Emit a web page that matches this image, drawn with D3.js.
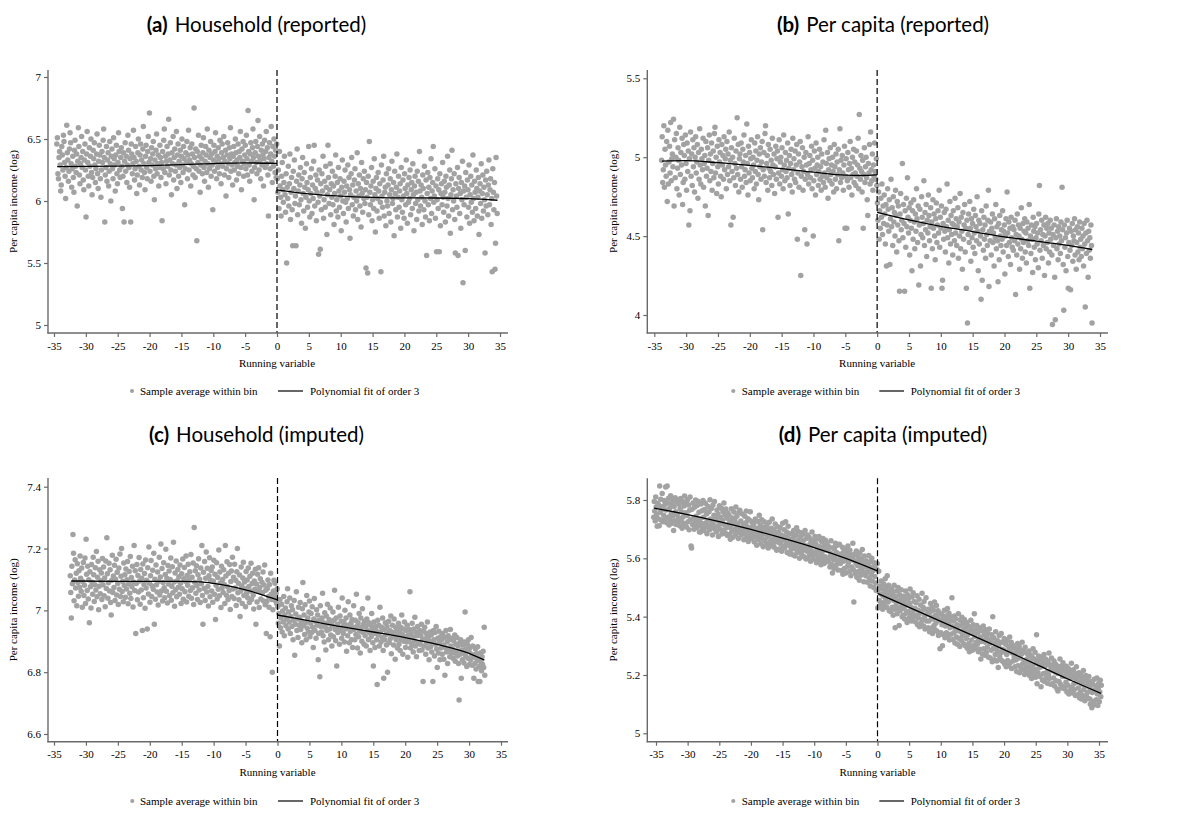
<!DOCTYPE html>
<html>
<head>
<meta charset="utf-8">
<script src="https://cdn.jsdelivr.net/npm/d3@7"></script>
<style>
  body { margin: 0; background: #fff; }
</style>
</head>
<body>
<svg id="chart" width="1192" height="813"></svg>
<script>
// ---- Binned sample averages (evenly spaced bins on each side of the cutoff) ----

// (a) Household income, reported
const aLeftRange = [-34.6, 0];
const aLeftY = [
  6.46,6.51,6.22,6.18,6.35,6.40,6.29,6.08,6.13,6.44,6.37,6.25,6.53,6.48,6.31,6.20,6.02,6.27,6.61,6.39,
  6.33,6.16,6.24,6.42,6.55,6.47,6.30,6.11,6.26,6.36,6.19,6.07,6.41,6.49,6.28,6.23,6.38,5.96,6.32,6.59,
  6.44,6.21,6.14,6.30,6.35,6.52,6.27,6.40,6.17,6.09,6.33,6.46,6.25,5.87,6.38,6.56,6.31,6.20,6.12,6.43,
  6.28,6.36,6.50,6.23,6.05,6.19,6.41,6.34,6.47,6.29,6.15,6.26,6.38,6.54,6.22,6.10,6.32,6.45,6.37,6.18,
  6.03,6.25,6.40,6.31,6.49,6.58,6.35,5.83,6.21,6.27,6.44,6.16,6.33,6.39,6.12,6.24,6.48,6.30,6.00,6.36,
  6.42,6.26,6.18,6.51,6.34,6.29,6.08,6.37,6.45,6.22,6.14,6.31,6.55,6.40,6.25,6.19,6.35,6.43,6.28,5.94,
  6.20,6.39,5.83,6.32,6.47,6.24,6.36,6.15,6.29,6.53,6.41,6.27,6.11,6.34,5.83,6.46,6.38,6.22,6.30,6.57,
  6.35,6.17,6.26,6.44,6.32,6.06,6.21,6.39,6.50,6.28,6.13,6.37,6.46,6.25,6.33,6.19,6.42,6.60,6.30,6.23,
  6.09,6.36,6.45,6.27,6.18,6.40,6.52,6.31,6.71,6.24,6.34,6.16,6.43,6.29,6.38,6.48,6.20,6.01,6.33,6.26,
  6.41,6.54,6.22,6.30,6.37,6.12,6.27,6.45,6.35,6.19,6.31,5.84,6.40,6.26,6.49,6.58,6.23,6.36,6.14,6.32,
  6.44,6.28,6.38,6.66,6.21,6.33,6.47,6.25,6.05,6.39,6.30,6.52,6.17,6.35,6.42,6.24,6.29,6.56,6.10,6.37,
  6.46,6.20,6.32,6.27,6.41,6.15,6.36,6.50,6.29,6.23,6.44,6.34,5.97,6.26,6.39,6.31,6.48,6.18,6.37,6.57,
  6.25,6.33,6.43,6.12,6.30,6.46,6.38,6.21,6.28,6.75,6.35,6.19,6.42,6.26,5.68,6.40,6.31,6.53,6.24,6.36,
  6.07,6.29,6.45,6.34,6.22,6.39,6.51,6.27,6.16,6.32,6.44,6.37,6.23,6.58,6.30,6.11,6.41,6.26,6.35,6.48,
  6.20,6.38,6.29,5.93,6.33,6.45,6.24,6.40,6.55,6.31,6.18,6.36,6.27,6.43,6.34,6.22,6.49,6.30,6.14,6.39,
  6.46,6.28,6.35,6.52,6.21,6.32,6.41,6.04,6.26,6.37,6.47,6.30,6.19,6.43,6.34,6.59,6.24,6.38,6.29,6.13,
  6.36,6.44,6.25,6.31,6.50,6.39,6.17,6.33,6.28,6.46,6.22,6.40,6.35,6.56,6.27,6.09,6.42,6.32,6.48,6.20,
  6.30,6.37,6.45,6.26,6.53,6.34,6.21,6.73,6.40,6.29,6.16,6.38,6.47,6.32,6.24,6.43,6.58,6.35,6.01,6.27,
  6.39,6.48,6.31,6.22,6.44,6.65,6.36,6.25,6.52,6.33,6.18,6.41,6.29,6.46,6.37,6.12,6.34,6.49,6.27,6.40,
  6.56,6.30,6.43,6.21,5.88,6.35,6.47,6.26,6.38,6.60,6.32,6.15,6.44,6.28,6.50,6.36,6.23,6.41,6.19,6.46
];
const aRightRange = [0, 34.6];
const aRightY = [
  6.18,6.07,6.25,5.94,6.40,6.12,6.03,5.88,6.20,6.31,6.09,5.99,6.15,6.36,6.05,5.91,6.22,5.50,6.11,6.02,
  6.28,5.96,6.14,6.38,5.85,6.07,6.19,5.93,5.64,6.24,6.10,6.33,5.98,6.04,5.64,6.16,6.42,5.89,6.08,6.21,
  5.97,6.13,6.27,6.01,5.82,6.18,6.35,6.06,5.92,6.23,6.11,5.78,6.03,6.30,6.15,5.95,6.09,6.44,6.00,5.87,
  6.19,6.06,6.26,5.90,6.13,6.02,6.32,6.45,5.96,6.10,6.21,5.84,6.07,6.17,5.99,5.57,6.25,6.04,5.61,6.14,
  5.93,6.22,6.08,6.36,5.86,6.01,6.16,5.95,6.28,6.11,5.73,6.05,6.45,6.19,5.98,6.09,6.30,5.89,6.14,6.03,
  6.24,5.97,6.12,5.81,6.06,6.20,6.37,5.92,6.01,6.15,5.87,6.27,6.08,5.95,6.18,6.04,5.76,6.11,6.33,6.00,
  5.90,6.16,6.07,6.25,5.99,5.83,6.12,6.02,6.29,5.94,6.19,6.09,5.70,6.05,6.22,6.35,5.97,6.13,5.88,6.03,
  6.17,6.26,5.93,6.08,6.00,6.39,5.85,6.14,6.04,6.21,5.96,6.10,5.79,6.31,6.06,5.91,6.18,6.02,6.24,5.98,
  6.09,5.46,6.15,6.03,5.42,6.20,5.89,6.48,6.07,5.97,6.12,6.27,5.84,6.01,6.16,5.94,6.34,6.05,5.75,6.10,
  6.19,5.92,6.02,6.23,6.08,5.86,6.14,5.99,5.43,6.29,6.04,5.95,6.17,6.36,5.88,6.07,6.11,5.80,6.22,6.00,
  5.96,6.13,6.26,5.90,6.05,6.18,5.83,6.09,6.32,5.98,6.02,6.15,5.72,6.24,6.06,5.93,6.11,6.38,5.87,6.03,
  6.20,5.95,6.08,6.14,5.78,6.27,6.01,5.91,6.17,6.04,5.86,6.22,6.10,5.97,6.33,6.06,5.82,6.13,5.99,6.19,
  6.02,6.25,5.89,6.09,6.15,5.94,6.30,6.05,5.76,6.12,6.20,5.98,6.07,5.85,6.24,6.01,6.16,5.92,6.40,6.08,
  5.96,6.13,6.03,5.81,6.21,6.10,5.93,6.28,6.00,5.87,6.17,5.56,6.06,6.23,5.97,6.11,5.84,6.19,6.02,6.34,
  5.90,6.08,6.15,6.44,5.99,6.04,6.26,5.86,6.12,5.59,6.01,6.18,5.94,6.09,5.59,6.22,5.80,6.06,6.14,5.97,
  6.31,6.03,5.91,6.16,6.07,5.83,6.20,6.11,5.96,6.36,6.02,5.88,6.13,6.25,5.74,6.05,6.18,6.41,5.93,6.09,
  6.00,6.22,5.85,5.58,6.14,6.04,5.95,6.27,5.56,6.10,6.19,5.90,6.06,5.78,6.15,6.01,6.32,5.34,6.08,5.97,
  6.12,5.60,6.23,6.03,5.87,6.17,6.09,5.95,6.29,5.82,6.05,6.20,5.99,6.13,5.91,6.37,6.02,5.84,6.16,6.07,
  5.94,6.25,6.10,5.88,6.03,6.19,5.73,6.08,6.14,5.98,6.30,5.86,6.06,6.21,5.92,6.11,6.01,5.58,6.17,5.96,
  6.24,6.05,5.89,6.13,6.33,5.97,6.09,6.18,5.81,6.02,5.43,6.26,6.07,5.93,6.15,5.45,5.66,6.35,6.04,5.90
];

// (b) Per capita income, reported
const bLeftRange = [-33.9, 0];
const bLeftY = [
  4.98,5.13,4.84,4.92,5.20,4.81,5.05,4.95,4.88,5.10,4.72,5.17,4.83,4.97,5.07,4.90,5.22,4.85,4.99,5.02,
  4.94,5.24,4.69,5.11,4.87,5.00,5.15,4.80,4.93,5.06,4.98,4.76,5.19,4.89,5.03,4.95,5.12,4.70,4.84,5.08,
  5.01,4.86,5.14,4.96,4.79,5.09,4.91,5.04,4.57,4.99,4.66,5.16,4.88,5.02,4.82,5.11,4.94,5.06,4.78,5.00,
  5.13,4.90,4.97,5.08,4.74,5.03,4.86,5.18,4.95,4.83,5.05,4.99,4.92,5.12,4.81,4.96,5.01,4.69,5.10,4.88,
  4.93,5.06,4.63,4.98,5.14,4.85,5.02,4.91,5.09,4.79,4.96,5.04,4.87,5.15,5.19,4.90,5.00,4.77,5.07,4.94,
  4.83,5.11,4.97,5.03,4.88,4.75,5.08,4.95,5.01,4.86,5.13,4.92,4.99,5.05,4.80,5.10,4.89,5.02,4.94,5.16,
  4.85,4.98,4.57,5.06,4.91,5.00,4.62,4.87,5.12,4.96,4.82,5.04,4.93,5.25,4.89,5.08,4.78,4.99,5.02,4.86,
  5.09,4.94,4.81,5.05,4.97,5.14,4.88,4.92,5.01,4.84,5.21,4.96,4.76,5.07,4.90,5.03,4.85,4.99,5.11,4.93,
  4.87,5.00,4.95,4.80,5.09,4.91,5.04,4.83,4.98,5.13,4.89,4.73,5.02,4.94,5.06,4.86,4.97,5.10,4.54,4.92,
  5.03,4.88,5.15,5.20,4.84,4.96,5.01,4.79,5.08,4.93,4.87,5.05,4.91,4.98,4.82,5.12,4.95,4.89,5.02,4.77,
  4.94,5.07,4.86,4.99,5.04,4.62,4.90,5.11,4.83,4.97,5.00,4.88,5.06,4.92,4.80,5.14,4.95,4.85,5.03,4.91,
  4.98,4.87,5.09,4.64,4.93,5.01,4.82,4.96,5.05,4.89,4.78,5.12,4.92,4.99,4.86,5.04,4.84,4.95,5.08,4.48,
  4.90,5.02,4.81,4.97,5.10,4.25,4.88,4.94,5.06,4.79,4.91,5.00,4.54,4.86,5.03,4.95,4.45,4.89,5.13,4.83,
  4.96,5.01,4.87,4.92,5.07,4.80,4.98,4.50,4.85,5.04,4.93,4.76,5.09,4.89,4.95,5.00,4.82,4.91,5.05,4.86,
  4.94,4.79,5.02,4.88,4.97,4.84,5.11,4.90,4.81,5.17,4.96,4.87,5.03,4.74,4.92,4.99,4.85,5.06,4.89,4.95,
  4.83,5.00,4.91,4.78,5.08,4.94,4.86,5.02,4.80,4.97,4.89,5.05,4.47,4.92,5.18,4.84,4.98,4.87,5.01,4.90,
  4.79,4.95,5.07,4.55,4.88,4.99,4.55,4.85,5.03,4.92,4.81,4.96,5.10,4.87,4.93,4.76,5.00,4.89,5.05,4.84,
  4.97,4.90,4.82,5.04,4.88,4.95,5.12,4.80,5.27,4.93,4.86,5.01,4.91,4.78,4.98,4.55,4.89,5.06,4.84,4.94,
  5.00,4.87,4.73,4.63,4.96,4.90,5.08,4.83,5.16,4.92,4.85,5.02,4.79,4.95,4.88,5.09,4.91,4.86,4.99,4.82
];
const bRightRange = [0, 33.8];
const bRightY = [
  4.71,4.60,4.78,4.48,4.66,4.55,4.74,4.62,4.83,4.51,4.69,4.58,4.76,4.64,4.45,4.70,4.31,4.57,4.80,4.67,
  4.53,4.73,4.32,4.61,4.86,4.56,4.68,4.44,4.75,4.59,4.65,4.50,4.79,4.63,4.40,4.72,4.57,4.69,4.47,4.15,
  4.64,4.77,4.54,4.60,4.96,4.49,4.70,4.58,4.15,4.66,4.43,4.74,4.56,4.87,4.62,4.52,4.68,4.38,4.60,4.71,
  4.55,4.28,4.66,4.48,4.73,4.59,4.42,4.64,4.53,4.80,4.61,4.46,4.69,4.19,4.57,4.67,4.31,4.51,4.75,4.62,
  4.49,4.58,4.85,4.44,4.65,4.54,4.70,4.37,4.60,4.52,4.76,4.63,4.47,4.56,4.68,4.17,4.59,4.42,4.73,4.55,
  4.64,4.50,4.35,4.61,4.71,4.46,4.57,4.66,4.52,4.79,4.43,4.62,4.55,4.69,4.17,4.22,4.58,4.48,4.65,4.53,
  4.40,4.67,4.56,4.83,4.49,4.60,4.33,4.54,4.72,4.45,4.63,4.51,4.58,4.38,4.66,4.57,4.47,4.74,4.52,4.61,
  4.44,4.56,4.68,4.36,4.59,4.50,4.77,4.42,4.62,4.53,4.29,4.65,4.48,4.57,4.70,4.40,4.55,4.17,4.60,3.95,
  4.51,4.64,4.46,4.72,4.55,4.34,4.61,4.49,4.58,4.43,4.67,4.52,4.39,4.63,4.56,4.47,4.75,4.53,4.28,4.60,
  4.45,4.58,4.50,4.10,4.66,4.22,4.54,4.41,4.62,4.48,4.57,4.36,4.69,4.51,4.44,4.60,4.79,4.18,4.53,4.47,
  4.59,4.38,4.55,4.64,4.46,4.52,4.31,4.61,4.49,4.70,4.42,4.56,4.47,4.21,4.58,4.35,4.63,4.50,4.44,4.54,
  4.48,4.66,4.40,4.53,4.57,4.26,4.50,4.61,4.44,4.78,4.52,4.37,4.59,4.46,4.55,4.32,4.62,4.49,4.43,4.56,
  4.41,4.54,4.47,4.60,4.13,4.51,4.38,4.64,4.45,4.57,4.50,4.29,4.55,4.42,4.68,4.48,4.36,4.58,4.46,4.53,
  4.61,4.40,4.52,4.33,4.59,4.47,4.55,4.44,4.70,4.17,4.50,4.39,4.57,4.48,4.27,4.62,4.53,4.43,4.56,4.35,
  4.49,4.58,4.45,4.52,4.30,4.64,4.82,4.41,4.54,4.47,4.60,4.36,4.51,4.44,4.57,4.25,4.50,4.62,4.42,4.55,
  4.46,4.58,4.33,4.52,4.40,4.60,4.48,4.55,4.38,3.94,4.51,4.44,4.57,4.24,3.97,4.49,4.61,4.42,4.53,4.35,
  4.56,4.45,4.50,4.39,4.59,4.47,4.81,4.54,4.32,4.03,4.57,4.43,4.49,4.28,4.52,4.60,4.37,4.17,4.46,4.55,
  4.41,4.16,4.53,4.44,4.58,4.34,4.50,4.47,4.61,4.38,4.54,4.29,4.46,4.56,4.40,4.52,4.35,4.59,4.43,4.48,
  4.37,4.55,4.42,4.50,4.31,4.58,4.45,4.05,4.52,4.39,4.60,4.47,4.24,4.53,4.41,4.49,4.36,4.57,4.44,3.95
];

// (c) Household income, imputed
const cLeftRange = [-32.5, 0];
const cLeftY = [
  7.112,7.058,6.975,7.143,7.086,7.245,7.185,7.031,7.098,7.164,7.072,7.120,7.015,7.151,7.090,7.046,7.128,7.075,7.176,7.104,
  7.062,7.137,7.010,7.093,7.155,7.048,7.081,7.169,7.022,7.230,7.117,7.064,7.143,7.037,7.099,6.960,7.125,7.076,7.008,7.148,
  7.091,7.052,7.172,7.115,7.029,7.083,7.138,7.066,7.190,7.044,7.107,7.159,7.002,7.078,7.131,7.054,7.096,7.121,7.035,7.168,
  7.083,7.140,7.047,7.105,7.012,7.160,7.071,7.235,7.118,7.039,7.089,7.152,7.063,7.131,7.025,6.985,7.097,7.178,7.058,7.111,
  7.074,7.146,7.032,7.101,7.165,7.050,7.123,7.087,7.019,7.137,7.068,7.182,7.045,7.110,7.200,7.061,7.093,7.028,7.153,7.080,
  7.115,7.042,7.134,7.069,7.099,7.158,7.021,7.085,7.126,7.055,7.174,7.038,7.106,7.076,7.143,7.011,7.092,7.210,7.064,7.128,
  6.925,7.087,7.148,7.034,7.113,7.059,7.171,7.095,7.020,7.132,7.066,7.104,6.935,7.150,7.041,7.084,7.119,7.007,7.163,7.072,
  7.097,6.940,7.138,7.053,7.205,7.088,7.026,7.112,7.161,7.045,7.079,7.130,7.068,7.185,6.955,7.101,7.036,7.147,7.083,7.059,
  7.124,7.017,7.094,7.172,7.050,7.108,7.215,7.063,7.135,7.030,7.090,7.154,7.073,7.041,7.116,7.198,7.062,7.104,7.024,7.145,
  7.085,7.127,7.048,7.100,7.169,7.033,7.078,7.141,7.057,7.220,7.092,7.013,7.121,7.067,7.160,7.044,7.096,7.132,7.075,7.109,
  7.052,7.147,7.088,7.022,7.118,7.070,7.166,7.036,7.102,7.139,7.060,7.094,7.176,7.027,7.113,7.081,7.149,7.046,7.098,7.125,
  7.064,7.181,7.039,7.107,7.073,7.153,7.019,7.268,7.091,7.128,7.055,7.144,7.080,7.035,7.115,7.167,7.066,7.101,7.025,7.137,
  7.086,7.210,7.048,6.955,7.123,7.071,7.158,7.032,7.104,7.189,7.059,7.136,7.077,7.014,7.112,7.170,7.044,7.097,7.129,7.063,
  7.140,7.026,7.094,7.162,7.052,7.117,6.970,7.081,7.154,7.037,7.106,7.068,7.195,7.047,7.124,7.089,7.009,7.143,7.072,7.100,
  7.058,7.131,7.084,7.022,7.210,7.111,7.049,7.157,7.076,7.035,7.120,7.064,7.148,7.003,7.093,7.127,7.045,7.172,7.069,7.107,
  7.038,7.149,7.072,7.097,7.016,7.125,7.200,7.057,7.088,7.034,7.114,6.980,7.063,7.140,7.079,7.022,7.105,7.156,7.048,7.092,
  7.070,7.012,7.126,7.055,7.098,7.041,7.137,7.077,7.025,7.110,7.063,7.152,7.035,7.087,7.120,7.049,7.004,7.095,7.068,7.133,
  6.955,7.085,7.027,7.117,7.061,7.138,7.009,7.074,7.102,7.037,7.058,7.091,7.056,7.124,7.030,7.082,7.147,7.018,7.065,6.925,
  7.029,7.071,7.098,7.045,7.010,7.084,6.915,7.120,7.052,7.035,6.800,7.002,7.063,7.097,7.041,7.088,7.030,7.056,7.022,7.070
];
const cRightRange = [0, 32.5];
const cRightY = [
  7.012,6.958,6.990,6.885,7.035,6.944,6.975,7.020,6.930,6.998,6.962,7.045,6.918,6.985,7.008,6.950,6.972,7.028,7.070,6.940,
  6.995,6.962,7.040,6.925,6.980,7.015,6.948,7.002,6.905,6.968,7.032,6.855,6.955,6.988,7.060,6.935,6.972,6.912,7.010,6.952,
  6.978,7.025,6.938,6.965,6.895,7.005,7.090,6.950,6.985,6.922,7.018,6.960,6.905,7.048,6.942,6.975,6.930,6.995,7.030,6.915,
  6.958,6.990,6.928,7.012,6.945,6.880,6.972,7.038,6.935,6.965,6.910,7.002,6.952,6.985,6.840,6.925,6.968,6.785,7.015,6.948,
  6.930,6.975,7.055,6.918,6.960,6.898,6.992,6.945,6.872,6.982,6.935,7.020,6.958,6.905,6.970,6.940,7.008,6.920,6.962,6.885,
  6.950,6.995,6.915,6.968,7.065,6.938,6.902,6.975,6.820,6.955,6.928,7.010,6.945,6.890,6.982,6.935,6.965,6.910,7.040,6.948,
  6.925,6.962,6.898,7.000,6.940,6.975,6.868,6.952,6.918,7.028,6.948,6.895,6.985,6.932,6.958,6.905,6.970,6.880,6.945,7.015,
  6.938,6.905,6.968,6.922,7.052,6.948,6.878,6.960,6.915,6.990,6.932,6.862,6.975,6.945,6.900,7.005,6.928,6.955,6.890,6.965,
  6.918,6.948,6.885,6.972,6.935,7.040,6.905,6.960,6.928,6.870,6.952,6.915,6.990,6.940,6.895,6.820,6.962,6.925,6.880,6.948,
  6.935,6.905,6.760,6.968,6.920,6.952,6.885,7.010,6.930,6.898,6.945,6.912,6.975,6.870,6.780,6.938,6.905,6.960,6.922,6.888,
  6.948,6.800,6.925,6.965,6.895,6.935,6.908,6.982,6.860,6.930,6.952,6.915,6.888,6.972,6.925,6.842,6.945,6.905,6.935,6.878,
  6.918,6.958,6.890,6.932,6.870,6.945,6.905,6.985,6.922,6.858,6.940,6.900,6.962,6.915,6.880,6.935,6.898,6.952,6.848,6.920,
  6.905,6.938,7.060,6.878,6.925,6.892,6.958,6.915,6.865,6.940,6.902,6.978,6.885,6.930,6.850,6.918,6.948,6.895,6.928,6.870,
  6.935,6.890,6.918,6.955,6.872,6.905,6.770,6.932,6.885,6.945,6.908,6.858,6.925,6.895,6.962,6.878,6.915,6.840,6.900,6.930,
  6.882,6.920,6.865,6.898,6.770,6.935,6.905,6.852,6.928,6.890,6.948,6.875,6.815,6.910,6.862,6.932,6.895,6.840,6.915,6.878,
  6.905,6.858,6.925,6.888,6.842,6.912,6.790,6.880,6.935,6.865,6.898,6.828,6.918,6.872,6.905,6.850,6.938,6.885,6.862,6.910,
  6.875,6.845,6.902,6.862,6.920,6.835,6.890,6.868,6.912,6.852,6.885,6.828,6.710,6.895,6.858,6.905,6.780,6.872,6.840,6.888,
  6.862,6.830,6.898,6.995,6.852,6.875,6.818,6.890,6.845,6.905,6.868,6.825,6.880,6.840,6.912,6.858,6.822,6.885,6.848,6.780,
  6.855,6.828,6.875,6.810,6.860,6.838,6.882,6.770,6.845,6.818,6.770,6.862,6.832,6.805,6.850,6.825,6.868,6.815,6.945,6.790
];

// (d) Per capita income, imputed
const dLeftRange = [-35.4, 0];
const dLeftY = [
  5.741,5.795,5.762,5.728,5.810,5.776,5.750,5.710,5.789,5.736,5.782,5.712,5.848,5.758,5.803,5.731,5.777,5.822,5.725,5.769,5.748,5.798,5.733,5.785,5.845,
  5.766,5.722,5.848,5.790,5.741,5.806,5.714,5.772,5.731,5.815,5.752,5.785,5.720,5.799,5.745,5.695,5.778,5.729,5.808,5.760,5.716,5.792,5.750,5.726,5.801,
  5.738,5.785,5.712,5.770,5.805,5.729,5.760,5.703,5.795,5.742,5.720,5.779,5.814,5.716,5.756,5.792,5.707,5.747,5.801,5.725,5.783,5.698,5.765,5.810,5.733,
  5.642,5.635,5.768,5.716,5.790,5.737,5.700,5.775,5.722,5.800,5.744,5.706,5.781,5.727,5.796,5.711,5.758,5.690,5.735,5.690,5.786,5.719,5.763,5.702,5.798,
  5.741,5.695,5.767,5.719,5.789,5.708,5.752,5.684,5.730,5.778,5.712,5.760,5.698,5.801,5.735,5.704,5.771,5.722,5.680,5.783,5.714,5.748,5.795,5.700,5.738,
  5.731,5.690,5.766,5.708,5.752,5.675,5.724,5.780,5.700,5.741,5.718,5.772,5.683,5.730,5.760,5.696,5.790,5.715,5.748,5.686,5.769,5.705,5.737,5.678,5.755,
  5.716,5.748,5.682,5.727,5.665,5.705,5.770,5.693,5.738,5.672,5.720,5.759,5.697,5.730,5.680,5.776,5.708,5.744,5.688,5.718,5.668,5.757,5.700,5.765,5.691,
  5.728,5.680,5.705,5.752,5.690,5.717,5.664,5.698,5.744,5.683,5.722,5.762,5.672,5.708,5.736,5.658,5.695,5.731,5.678,5.760,5.702,5.667,5.725,5.688,5.712,
  5.678,5.720,5.656,5.694,5.735,5.673,5.703,5.645,5.688,5.727,5.664,5.699,5.748,5.676,5.714,5.650,5.690,5.732,5.668,5.706,5.640,5.684,5.725,5.660,5.697,
  5.686,5.648,5.712,5.672,5.695,5.635,5.680,5.724,5.655,5.690,5.642,5.703,5.664,5.735,5.682,5.650,5.700,5.638,5.676,5.718,5.659,5.688,5.628,5.670,5.708,
  5.655,5.690,5.632,5.672,5.705,5.650,5.680,5.624,5.662,5.720,5.640,5.676,5.698,5.635,5.668,5.725,5.652,5.690,5.620,5.673,5.710,5.645,5.684,5.615,5.660,
  5.664,5.630,5.685,5.648,5.612,5.670,5.695,5.634,5.655,5.608,5.678,5.642,5.705,5.620,5.660,5.692,5.628,5.650,5.600,5.674,5.638,5.688,5.615,5.658,5.682,
  5.628,5.662,5.605,5.645,5.695,5.633,5.598,5.668,5.624,5.680,5.602,5.640,5.672,5.612,5.650,5.590,5.664,5.626,5.690,5.608,5.644,5.596,5.658,5.618,5.675,
  5.614,5.648,5.585,5.632,5.666,5.600,5.625,5.675,5.590,5.640,5.610,5.578,5.658,5.620,5.596,5.668,5.630,5.582,5.645,5.605,5.662,5.588,5.628,5.652,5.598,
  5.628,5.588,5.640,5.604,5.570,5.618,5.660,5.580,5.612,5.550,5.636,5.596,5.565,5.632,5.602,5.652,5.575,5.620,5.590,5.645,5.560,5.614,5.584,5.648,5.598,
  5.582,5.615,5.558,5.600,5.638,5.545,5.590,5.625,5.565,5.608,5.632,5.550,5.596,5.618,5.572,5.642,5.585,5.610,5.555,5.628,5.594,5.540,5.612,5.570,5.605,
  5.652,5.560,5.450,5.592,5.615,5.548,5.585,5.625,5.535,5.575,5.605,5.555,5.590,5.525,5.618,5.572,5.542,5.600,5.565,5.630,5.552,5.588,5.520,5.608,5.570,
  5.572,5.540,5.592,5.552,5.518,5.580,5.560,5.610,5.532,5.570,5.505,5.588,5.545,5.600,5.522,5.568,5.558,5.500,5.585,5.538,5.578,5.515,5.490,5.562,5.582
];
const dRightRange = [0, 35.4];
const dRightY = [
  5.430,5.492,5.556,5.455,5.505,5.438,5.478,5.522,5.448,5.496,5.425,5.470,5.512,5.442,5.485,5.530,5.458,5.500,5.432,5.540,5.475,5.450,5.508,5.420,5.488,
  5.470,5.418,5.462,5.495,5.432,5.480,5.405,5.455,5.508,5.425,5.362,5.468,5.440,5.488,5.410,5.452,5.500,5.428,5.370,5.475,5.420,5.460,5.492,5.436,5.400,
  5.450,5.405,5.470,5.428,5.392,5.455,5.488,5.412,5.440,5.380,5.475,5.418,5.462,5.395,5.445,5.495,5.408,5.432,5.385,5.468,5.415,5.482,5.398,5.452,5.425,
  5.428,5.382,5.448,5.405,5.472,5.372,5.422,5.395,5.460,5.365,5.412,5.440,5.378,5.418,5.480,5.390,5.432,5.368,5.452,5.400,5.358,5.425,5.465,5.385,5.410,
  5.410,5.362,5.425,5.385,5.348,5.415,5.445,5.360,5.398,5.432,5.342,5.392,5.422,5.370,5.450,5.355,5.405,5.378,5.438,5.350,5.395,5.420,5.335,5.388,5.412,
  5.290,5.388,5.345,5.408,5.372,5.300,5.395,5.338,5.380,5.422,5.328,5.368,5.402,5.345,5.390,5.428,5.332,5.375,5.412,5.320,5.362,5.400,5.340,5.385,5.465,
  5.365,5.322,5.385,5.345,5.402,5.310,5.360,5.392,5.330,5.372,5.305,5.352,5.410,5.325,5.368,5.298,5.388,5.348,5.318,5.398,5.335,5.375,5.308,5.358,5.390,
  5.348,5.300,5.362,5.325,5.380,5.292,5.338,5.368,5.308,5.280,5.350,5.295,5.388,5.320,5.358,5.285,5.342,5.372,5.302,5.410,5.332,5.290,5.355,5.312,5.370,
  5.305,5.345,5.280,5.322,5.362,5.288,5.330,5.255,5.315,5.352,5.272,5.320,5.368,5.290,5.338,5.268,5.312,5.355,5.278,5.328,5.295,5.342,5.262,5.318,5.358,
  5.308,5.258,5.322,5.285,5.338,5.245,5.400,5.292,5.328,5.252,5.310,5.270,5.348,5.288,5.248,5.318,5.280,5.226,5.300,5.335,5.262,5.312,5.275,5.342,5.250,
  5.288,5.312,5.245,5.285,5.325,5.238,5.278,5.305,5.228,5.270,5.318,5.250,5.298,5.232,5.282,5.330,5.242,5.290,5.312,5.222,5.275,5.302,5.248,5.295,5.262,
  5.270,5.228,5.290,5.252,5.212,5.278,5.308,5.232,5.262,5.298,5.208,5.258,5.285,5.222,5.272,5.312,5.238,5.218,5.282,5.250,5.202,5.295,5.242,5.225,5.275,
  5.255,5.210,5.270,5.228,5.282,5.198,5.245,5.268,5.215,5.188,5.262,5.232,5.290,5.205,5.255,5.220,5.278,5.192,5.240,5.338,5.170,5.250,5.208,5.265,5.225,
  5.235,5.195,5.252,5.160,5.228,5.262,5.182,5.240,5.205,5.270,5.178,5.230,5.255,5.190,5.238,5.210,5.172,5.248,5.200,5.275,5.188,5.235,5.168,5.225,5.258,
  5.215,5.170,5.232,5.190,5.248,5.162,5.210,5.238,5.180,5.222,5.152,5.205,5.145,5.230,5.178,5.218,5.255,5.168,5.208,5.155,5.228,5.195,5.242,5.160,5.215,
  5.195,5.152,5.212,5.175,5.230,5.142,5.198,5.165,5.222,5.135,5.188,5.210,5.148,5.200,5.240,5.158,5.192,5.138,5.218,5.170,5.150,5.205,5.130,5.185,5.228,
  5.175,5.132,5.195,5.155,5.208,5.122,5.178,5.140,5.202,5.118,5.168,5.188,5.130,5.215,5.150,5.182,5.112,5.165,5.198,5.128,5.185,5.140,5.120,5.172,5.195,
  5.158,5.118,5.100,5.150,5.178,5.088,5.140,5.168,5.110,5.148,5.185,5.098,5.145,5.162,5.115,5.190,5.135,5.095,5.155,5.172,5.108,5.142,5.182,5.125,5.165
];

// ---- Third-order polynomial fits, sampled at a few points per side ----
const aLeftFit  = [[-34.5,6.277],[-25,6.281],[-20,6.286],[-15,6.293],[-10,6.302],[-5,6.307],[0,6.304]];
const aRightFit = [[0,6.089],[2.5,6.072],[5,6.058],[10,6.040],[15,6.030],[20,6.025],[25,6.024],[30,6.019],[34.6,6.006]];
const bLeftFit  = [[-33.8,4.975],[-30,4.978],[-25,4.965],[-20,4.948],[-15,4.928],[-10,4.905],[-5,4.886],[-2.5,4.884],[0,4.888]];
const bRightFit = [[0,4.651],[5,4.603],[10,4.562],[15,4.529],[20,4.495],[25,4.468],[30,4.441],[33.8,4.415]];
const cLeftFit  = [[-32.3,7.095],[-25,7.094],[-20,7.094],[-15,7.094],[-12,7.092],[-10,7.087],[-7.5,7.078],[-5,7.066],[-2.5,7.051],[0,7.034]];
const cRightFit = [[0,6.985],[5,6.966],[10,6.947],[15,6.930],[20,6.912],[25,6.890],[30,6.861],[32.4,6.839]];
const dLeftFit  = [[-35.3,5.772],[-30,5.750],[-25,5.726],[-20,5.699],[-15,5.669],[-10,5.637],[-5,5.600],[0,5.557]];
const dRightFit = [[0,5.480],[5,5.432],[10,5.384],[15,5.336],[20,5.287],[25,5.237],[30,5.187],[35.3,5.137]];

// ---- Axis ticks and labels ----
const xTicks  = [-35,-30,-25,-20,-15,-10,-5,0,5,10,15,20,25,30,35];
const yTicksA = [5,5.5,6,6.5,7];
const yTicksB = [4,4.5,5,5.5];
const yTicksC = [6.6,6.8,7,7.2,7.4];
const yTicksD = [5,5.2,5.4,5.6,5.8];
const panelLetters = ["(a)","(b)","(c)","(d)"];
const panelTitles  = ["Household (reported)","Per capita (reported)","Household (imputed)","Per capita (imputed)"];
const xLabel = "Running variable";
const yLabel = "Per capita income (log)";
const legendDots = "Sample average within bin";
const legendLine = "Polynomial fit of order 3";

// ---- Drawing ----
const svg = d3.select("#chart");
const serif = "'Liberation Serif','Times New Roman',Times,serif";
const sans = "Lato,'Open Sans',sans-serif";
const dotColor = "#a2a2a2";
const axisColor = "#6a6a6a";

const panels = [
  { left:{y:aLeftY, range:aLeftRange, fit:aLeftFit}, right:{y:aRightY, range:aRightRange, fit:aRightFit},
    yTicks:yTicksA, yDom:[5,7], yRng:[325,77], xRng:[54,500],
    axL:48, axR:508, top:70, bottom:333, titleX:256.5, titleY:32, ylabX:13,
    legY:391, legDot:132, legText:140, legLine:[278,303], legText2:310 },
  { left:{y:bLeftY, range:bLeftRange, fit:bLeftFit}, right:{y:bRightY, range:bRightRange, fit:bRightFit},
    yTicks:yTicksB, yDom:[4,5.5], yRng:[315,78.3], xRng:[654.3,1100],
    axL:647.3, axR:1108, top:70, bottom:333, titleX:883, titleY:32, ylabX:613,
    legY:391, legDot:733.3, legText:741.7, legLine:[879.3,904], legText2:910.7 },
  { left:{y:cLeftY, range:cLeftRange, fit:cLeftFit}, right:{y:cRightY, range:cRightRange, fit:cRightFit},
    yTicks:yTicksC, yDom:[6.6,7.4], yRng:[734,486.7], xRng:[54,501],
    axL:48, axR:508, top:478, bottom:741.7, titleX:256.5, titleY:442, ylabX:13,
    legY:801, legDot:132.3, legText:140, legLine:[278,303], legText2:310 },
  { left:{y:dLeftY, range:dLeftRange, fit:dLeftFit}, right:{y:dRightY, range:dRightRange, fit:dRightFit},
    yTicks:yTicksD, yDom:[5,5.8], yRng:[733.3,500], xRng:[656,1099],
    axL:647.3, axR:1108, top:478.3, bottom:741.7, titleX:883, titleY:442, ylabX:613,
    legY:801, legDot:733.3, legText:741.7, legLine:[879.3,904], legText2:910.7 }
];

// bin midpoints for an evenly binned side of the cutoff
function binMids(range, n) {
  const w = (range[1] - range[0]) / n;
  return d3.range(n).map(i => range[0] + (i + 0.5) * w);
}

panels.forEach((p, k) => {
  const x = d3.scaleLinear().domain([-35, 35]).range(p.xRng);
  const y = d3.scaleLinear().domain(p.yDom).range(p.yRng);
  const g = svg.append("g");

  // title
  const t = g.append("text")
    .attr("x", p.titleX).attr("y", p.titleY)
    .attr("text-anchor", "middle")
    .attr("font-family", sans).attr("font-size", 20.5).attr("fill", "#000");
  t.append("tspan").attr("font-weight", "bold").text(panelLetters[k]);
  t.append("tspan").attr("dx", 7).text(panelTitles[k]);

  // scatter of bin averages
  [p.left, p.right].forEach(side => {
    const xs = binMids(side.range, side.y.length);
    g.append("g").selectAll("circle")
      .data(side.y.map((v, i) => [xs[i], v]))
      .join("circle")
      .attr("cx", d => x(d[0])).attr("cy", d => y(d[1]))
      .attr("r", 2.75).attr("fill", dotColor);
  });

  // polynomial fits
  const line = d3.line().x(d => x(d[0])).y(d => y(d[1])).curve(d3.curveMonotoneX);
  [p.left.fit, p.right.fit].forEach(f => {
    g.append("path").attr("d", line(f))
      .attr("fill", "none").attr("stroke", "#000").attr("stroke-width", 1.3);
  });

  // cutoff
  g.append("line")
    .attr("x1", x(0)).attr("x2", x(0)).attr("y1", p.top).attr("y2", p.bottom)
    .attr("stroke", "#000").attr("stroke-width", 1.2).attr("stroke-dasharray", "6,3");

  // y axis
  const ya = g.append("g").attr("transform", `translate(${p.axL},0)`)
    .call(d3.axisLeft(y).tickValues(p.yTicks).tickSize(4).tickPadding(3).tickFormat(d => String(d)))
    .attr("font-family", serif).attr("font-size", 11);
  ya.select(".domain").remove();
  ya.selectAll(".tick line").attr("stroke", axisColor).attr("stroke-width", 1.2);
  ya.selectAll(".tick text").attr("fill", "#000");

  // x axis
  const xa = g.append("g").attr("transform", `translate(0,${p.bottom})`)
    .call(d3.axisBottom(x).tickValues(xTicks).tickSize(4).tickPadding(5).tickFormat(d => String(d)))
    .attr("font-family", serif).attr("font-size", 11);
  xa.select(".domain").remove();
  xa.selectAll(".tick line").attr("stroke", axisColor).attr("stroke-width", 1.2);
  xa.selectAll(".tick text").attr("fill", "#000");

  // axis lines
  g.append("line").attr("x1", p.axL).attr("x2", p.axL).attr("y1", p.top).attr("y2", p.bottom + 0.6)
    .attr("stroke", axisColor).attr("stroke-width", 1.4);
  g.append("line").attr("x1", p.axL - 0.6).attr("x2", p.axR).attr("y1", p.bottom).attr("y2", p.bottom)
    .attr("stroke", axisColor).attr("stroke-width", 1.4);

  // axis titles
  g.append("text").attr("x", x(0)).attr("y", p.bottom + 34)
    .attr("text-anchor", "middle").attr("font-family", serif).attr("font-size", 11).text(xLabel);
  g.append("text")
    .attr("transform", `translate(${p.ylabX},${(p.top + p.bottom) / 2}) rotate(-90)`)
    .attr("text-anchor", "middle").attr("dy", "0.35em")
    .attr("font-family", serif).attr("font-size", 11).text(yLabel);

  // legend
  g.append("circle").attr("cx", p.legDot).attr("cy", p.legY).attr("r", 2.1).attr("fill", dotColor);
  g.append("text").attr("x", p.legText).attr("y", p.legY + 4)
    .attr("font-family", serif).attr("font-size", 11).text(legendDots);
  g.append("line").attr("x1", p.legLine[0]).attr("x2", p.legLine[1]).attr("y1", p.legY).attr("y2", p.legY)
    .attr("stroke", "#000").attr("stroke-width", 1.2);
  g.append("text").attr("x", p.legText2).attr("y", p.legY + 4)
    .attr("font-family", serif).attr("font-size", 11).text(legendLine);
});
</script>
</body>
</html>
